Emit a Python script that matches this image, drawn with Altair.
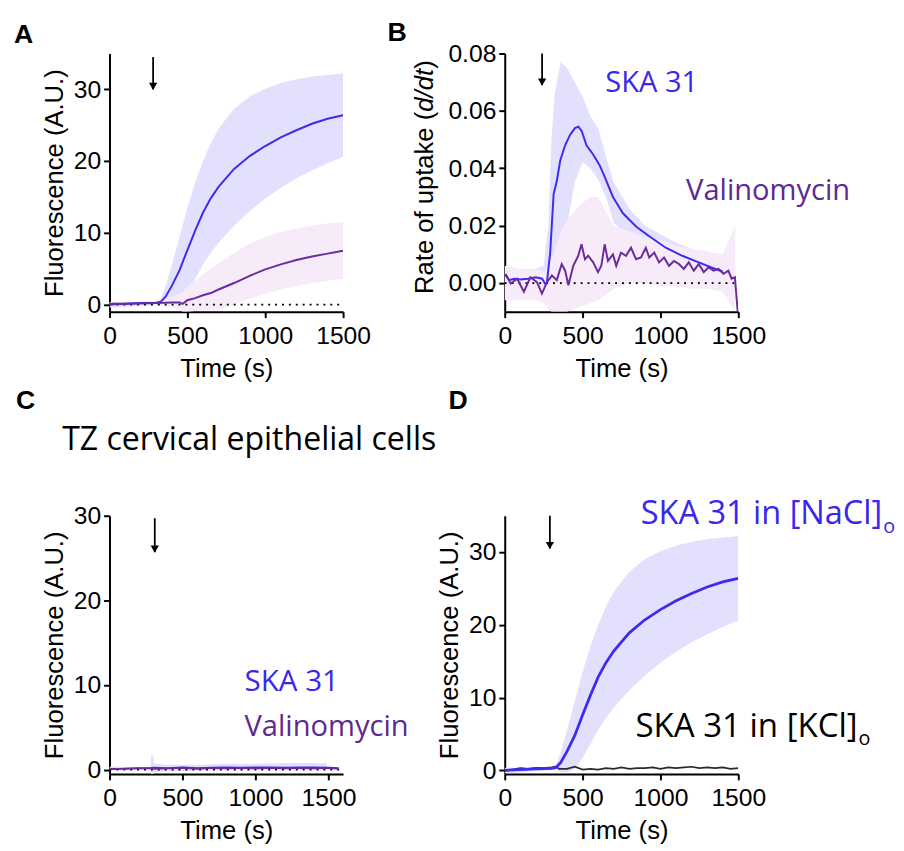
import altair as alt
import pandas as pd

# ---------------- data ----------------
# Panels A and D : SKA 31 fluorescence (mean and SEM envelope)
time_ska = [0, 100, 200, 300, 330, 360, 400, 450, 500, 550, 600, 650, 700, 800, 900, 1000, 1100, 1200, 1300, 1400, 1500]
ska_mean = [0.0, 0.1, 0.2, 0.25, 0.4, 1.1, 2.6, 4.8, 7.6, 10.3, 12.8, 14.8, 16.4, 18.9, 20.7, 22.1, 23.3, 24.3, 25.2, 25.9, 26.4]
ska_hi = [0.35, 0.35, 0.4, 0.5, 0.8, 2.5, 5.5, 9.5, 13.5, 17.0, 20.0, 22.5, 24.5, 27.3, 29.0, 30.1, 30.9, 31.4, 31.8, 32.0, 32.2]
ska_lo = [-0.4, -0.3, -0.1, 0.0, 0.0, -0.3, -0.3, 0.1, 1.7, 3.6, 5.6, 7.2, 8.6, 11.0, 13.0, 14.8, 16.3, 17.6, 18.7, 19.7, 20.6]

# Panel A : Valinomycin fluorescence
time_val = [0, 100, 200, 300, 400, 450, 470, 500, 550, 600, 650, 700, 800, 900, 1000, 1100, 1200, 1300, 1400, 1500]
val_mean = [0.1, 0.1, 0.15, 0.2, 0.3, 0.3, 0.1, 0.6, 0.9, 1.3, 1.6, 2.1, 3.0, 4.0, 4.9, 5.6, 6.2, 6.7, 7.1, 7.5]
val_hi = [0.3, 0.3, 0.4, 0.5, 1.0, 1.5, 1.8, 2.5, 3.3, 4.2, 5.0, 5.8, 7.2, 8.5, 9.4, 10.1, 10.6, 11.0, 11.3, 11.5]
val_lo = [-0.1, -0.1, -0.1, -0.1, -0.4, -0.8, -1.0, -1.0, -0.9, -0.8, -0.8, -0.7, 0.0, 0.8, 1.5, 2.1, 2.6, 3.0, 3.3, 3.6]

# Panel B : rate of uptake
time_rate_ska = [0, 30, 60, 100, 150, 200, 240, 262, 271, 292, 314, 335, 356, 388, 420, 451, 473, 494, 525, 568, 610,
                 642, 695, 759, 843, 928, 1034, 1140, 1246, 1352, 1400]
rate_ska = [0.003, 0.001, 0.0015, 0.0012, 0.0015, 0.002, 0.0015, -0.0005, 0.0003, 0.0106, 0.031, 0.0357, 0.0426, 0.048,
            0.0517, 0.054, 0.0545, 0.053, 0.048, 0.0448, 0.041, 0.037, 0.030, 0.0243, 0.0197, 0.0163, 0.0123, 0.0095,
            0.0072, 0.0049, 0.004]
time_rate_val = [6, 38, 80, 123, 165, 207, 239, 271, 303, 334, 366, 388, 409, 440, 472, 493, 515, 536, 568, 599, 620,
                 642, 663, 695, 716, 747, 779, 811, 843, 875, 906, 928, 960, 991, 1023, 1055, 1087, 1119, 1150, 1182,
                 1214, 1246, 1278, 1309, 1341, 1373, 1405, 1436, 1457, 1478, 1496]
rate_val = [0.0032, -0.0002, 0.0015, -0.003, 0.002, 0.0003, -0.0037, 0.0003, 0.0026, 0.001, 0.0066, 0.0043, -0.0008,
            0.006, 0.0095, 0.0135, 0.0083, 0.0095, 0.0072, 0.0038, 0.006, 0.0135, 0.0077, 0.010, 0.006, 0.0106, 0.0095,
            0.0123, 0.0083, 0.0089, 0.0123, 0.0089, 0.0106, 0.0072, 0.0089, 0.006, 0.0077, 0.0066, 0.0049, 0.0072,
            0.0043, 0.0066, 0.0038, 0.0055, 0.0043, 0.0049, 0.0032, 0.0043, 0.0015, 0.002, -0.0098]
time_rate_band = [0, 100, 200, 250, 280, 300, 320, 360, 400, 450, 500, 550, 600, 650, 700, 800, 900, 1000, 1100, 1200,
                  1300, 1400, 1480]
rate_ska_hi = [0.005, 0.004, 0.005, 0.006, 0.02, 0.05, 0.066, 0.077, 0.075, 0.070, 0.065, 0.058, 0.054, 0.044, 0.035,
               0.026, 0.020, 0.017, 0.014, 0.012, 0.010, 0.008, 0.006]
rate_ska_lo = [-0.002, -0.002, -0.001, -0.004, -0.008, -0.01, -0.008, 0.005, 0.02, 0.035, 0.042, 0.040, 0.036, 0.030,
               0.021, 0.016, 0.013, 0.010, 0.008, 0.006, 0.004, 0.002, 0.002]
rate_val_hi = [0.006, 0.005, 0.005, 0.004, 0.006, 0.008, 0.011, 0.018, 0.022, 0.025, 0.028, 0.030, 0.030, 0.025, 0.020,
               0.018, 0.016, 0.015, 0.013, 0.012, 0.011, 0.010, 0.020]
rate_val_lo = [-0.006, -0.006, -0.006, -0.007, -0.009, -0.01, -0.01, -0.01, -0.01, -0.009, -0.008, -0.007, -0.006,
               -0.004, -0.002, 0.0, 0.0, -0.001, -0.001, -0.002, -0.002, -0.003, -0.01]

# Panel C : TZ cervical epithelial cells
time_c = [0, 100, 200, 280, 300, 400, 500, 600, 700, 800, 900, 1000, 1100, 1200, 1300, 1400, 1500, 1570]
ska_c = [0.05, 0.15, 0.2, 0.2, 0.25, 0.2, 0.3, 0.2, 0.25, 0.3, 0.25, 0.3, 0.3, 0.25, 0.3, 0.3, 0.25, 0.2]
val_c = [0.1, 0.1, 0.15, 0.15, 0.1, 0.15, 0.2, 0.1, 0.2, 0.15, 0.2, 0.15, 0.2, 0.15, 0.2, 0.15, 0.2, 0.1]
time_c_band = [0, 280, 285, 300, 305, 400, 600, 800, 1000, 1200, 1400, 1490]
ska_c_hi = [0.35, 0.35, 1.8, 1.6, 0.7, 0.6, 0.6, 0.7, 0.7, 0.8, 0.8, 0.8]
ska_c_lo = [0.0, 0.0, -0.5, -0.5, -0.3, -0.2, -0.1, 0.0, 0.0, 0.0, 0.0, 0.0]

# Panel D : SKA 31 in KCl
time_kcl = [0, 50, 100, 150, 200, 250, 300, 330, 350, 400, 450, 500, 550, 600, 650, 700, 750, 800, 850, 900, 950,
            1000, 1050, 1100, 1150, 1200, 1250, 1300, 1350, 1400, 1450, 1500]
kcl_mean = [-0.1, 0.1, 0.3, 0.2, 0.35, 0.3, 0.4, 0.5, 0.2, 0.2, 0.5, 0.1, 0.2, 0.1, 0.3, 0.2, 0.4, 0.2, 0.3, 0.3, 0.4,
            0.2, 0.4, 0.3, 0.4, 0.5, 0.3, 0.4, 0.3, 0.4, 0.2, 0.3]

# arrows (time of addition), per panel: x, top, tip
arrow_A = [280, 34.5, 30.0]
arrow_B = [240, 0.080, 0.069]
arrow_C = [310, 29.7, 25.7]
arrow_D = [290, 35.0, 30.5]

# ---------------- styling ----------------
BLUE = "#3b2cf0"
PURPLE = "#6a2b9c"
BAND_BLUE = "#e2e0fc"
BAND_PURPLE = "#f7ebfa"
TXT_BLUE = "#3a26ee"
TXT_PURPLE = "#5c2a90"
W, H = 237, 262
LABEL_FONT = "Open Sans"


def xaxis(values=(0, 500, 1000, 1500)):
    return alt.Axis(values=list(values), title="Time (s)", format="d")


def band(df, lo, hi, color, xs, ys, ya):
    return alt.Chart(df).mark_area(color=color, clip=True, opacity=1).encode(
        x=alt.X("t:Q", scale=xs, axis=xaxis()),
        y=alt.Y(f"{lo}:Q", scale=ys, axis=ya),
        y2=f"{hi}:Q",
    )


def line(df, field, color, xs, ys, ya, width=2.0):
    return alt.Chart(df).mark_line(color=color, strokeWidth=width, clip=True, interpolate="linear").encode(
        x=alt.X("t:Q", scale=xs, axis=xaxis()),
        y=alt.Y(f"{field}:Q", scale=ys, axis=ya),
    )


def zero_line(xs, ys, ya, xend=1500):
    df = pd.DataFrame({"x0": [0], "x1": [xend], "y0": [0]})
    return alt.Chart(df).mark_rule(color="black", strokeDash=[2, 5], strokeWidth=1.8).encode(
        x=alt.X("x0:Q", scale=xs, axis=xaxis()), x2="x1:Q",
        y=alt.Y("y0:Q", scale=ys, axis=ya),
    )


def arrow(a, xs, ys, ya):
    df = pd.DataFrame({"x": [a[0]], "top": [a[1]], "tip": [a[2]]})
    shaft = alt.Chart(df).mark_rule(color="black", strokeWidth=1.8).encode(
        x=alt.X("x:Q", scale=xs, axis=xaxis()),
        y=alt.Y("top:Q", scale=ys, axis=ya), y2="tip:Q",
    )
    head = alt.Chart(df).mark_point(shape="triangle-down", filled=True, color="black", size=70, opacity=1,
                                    yOffset=-3).encode(
        x=alt.X("x:Q", scale=xs, axis=xaxis()),
        y=alt.Y("tip:Q", scale=ys, axis=ya),
    )
    return shaft + head


def label(text, x, y, color="black", size=29, weight="normal", font=LABEL_FONT, align="left",
          baseline="alphabetic", angle=0, style="normal"):
    df = pd.DataFrame({"s": [text]})
    return alt.Chart(df).mark_text(color=color, fontSize=size, fontWeight=weight, font=font, align=align,
                                   baseline=baseline, angle=angle, fontStyle=style).encode(
        text="s:N", x=alt.value(x), y=alt.value(y))


def letter(text, x, y):
    return label(text, x, y, size=27, weight="bold", font="Liberation Sans")


def anchor(x, y):
    # invisible point fixing the top-left corner of the figure
    df = pd.DataFrame({"a": [0]})
    return alt.Chart(df).mark_point(size=1, opacity=0, filled=True, strokeWidth=0).encode(
        x=alt.value(x), y=alt.value(y))


# ---------------- Panel A ----------------
dfA_ska = pd.DataFrame({"t": time_ska, "m": ska_mean, "lo": ska_lo, "hi": ska_hi})
dfA_val = pd.DataFrame({"t": time_val, "m": val_mean, "lo": val_lo, "hi": val_hi})
xsA = alt.Scale(domain=[0, 1500], nice=False, zero=False)
ysA = alt.Scale(domain=[-1, 35], nice=False, zero=False)
yaA = alt.Axis(values=[0, 10, 20, 30], title="Fluorescence (A.U.)")
panelA = alt.layer(
    band(dfA_ska, "lo", "hi", BAND_BLUE, xsA, ysA, yaA),
    band(dfA_val, "lo", "hi", BAND_PURPLE, xsA, ysA, yaA),
    zero_line(xsA, ysA, yaA),
    line(dfA_ska, "m", BLUE, xsA, ysA, yaA),
    line(dfA_val, "m", PURPLE, xsA, ysA, yaA),
    arrow(arrow_A, xsA, ysA, yaA),
    letter("A", -97, -11),
    anchor(-97.5, -36),
).properties(width=W, height=H)

# ---------------- Panel B ----------------
dfB_ska = pd.DataFrame({"t": time_rate_ska, "m": rate_ska})
dfB_val = pd.DataFrame({"t": time_rate_val, "m": rate_val})
dfB_band = pd.DataFrame({"t": time_rate_band, "slo": rate_ska_lo, "shi": rate_ska_hi,
                         "vlo": rate_val_lo, "vhi": rate_val_hi})
xsB = alt.Scale(domain=[0, 1500], nice=False, zero=False)
ysB = alt.Scale(domain=[-0.01, 0.08], nice=False, zero=False)
yaB = alt.Axis(values=[0, 0.02, 0.04, 0.06, 0.08], format=".2f", title=None)
panelB = alt.layer(
    band(dfB_band, "slo", "shi", BAND_BLUE, xsB, ysB, yaB),
    band(dfB_band, "vlo", "vhi", BAND_PURPLE, xsB, ysB, yaB),
    zero_line(xsB, ysB, yaB),
    line(dfB_ska, "m", BLUE, xsB, ysB, yaB),
    line(dfB_val, "m", PURPLE, xsB, ysB, yaB),
    arrow(arrow_B, xsB, ysB, yaB),
    label("SKA 31", 102, 39, color=TXT_BLUE, size=29.5),
    label("Valinomycin", 184, 149, color=TXT_PURPLE, size=29.5),
    label("Rate of uptake (", -73, 244, size=26, font="Liberation Sans", angle=270),
    label("d/dt", -73, 59, size=26, font="Liberation Sans", angle=270, style="italic"),
    label(")", -73, 15.6, size=26, font="Liberation Sans", angle=270),
    letter("B", -119, -13),
).properties(width=W, height=H)

# ---------------- Panel C ----------------
dfC = pd.DataFrame({"t": time_c, "s": ska_c, "v": val_c})
dfC_band = pd.DataFrame({"t": time_c_band, "lo": ska_c_lo, "hi": ska_c_hi})
xsC = alt.Scale(domain=[0, 1600], nice=False, zero=False)
ysC = alt.Scale(domain=[-0.5, 30], nice=False, zero=False)
yaC = alt.Axis(values=[0, 10, 20, 30], title="Fluorescence (A.U.)")
panelC = alt.layer(
    band(dfC_band, "lo", "hi", BAND_BLUE, xsC, ysC, yaC),
    zero_line(xsC, ysC, yaC, xend=1600),
    line(dfC, "s", BLUE, xsC, ysC, yaC, width=1.6),
    line(dfC, "v", PURPLE, xsC, ysC, yaC, width=1.6),
    arrow(arrow_C, xsC, ysC, yaC),
    label("SKA 31", 137, 178, color=TXT_BLUE, size=30),
    label("Valinomycin", 137, 223, color=TXT_PURPLE, size=29.5),
    label("TZ cervical epithelial cells", -48, -67, size=32.5),
    letter("C", -95, -108),
).properties(width=W, height=H)

# ---------------- Panel D ----------------
dfD_ska = dfA_ska
dfD_kcl = pd.DataFrame({"t": time_kcl, "m": kcl_mean})
xsD = alt.Scale(domain=[0, 1500], nice=False, zero=False)
ysD = alt.Scale(domain=[-0.5, 35], nice=False, zero=False)
yaD = alt.Axis(values=[0, 10, 20, 30], title="Fluorescence (A.U.)")
panelD = alt.layer(
    band(dfD_ska, "lo", "hi", BAND_BLUE, xsD, ysD, yaD),
    line(dfD_kcl, "m", "#2b2b2b", xsD, ysD, yaD, width=1.6),
    line(dfD_ska, "m", BLUE, xsD, ysD, yaD, width=2.8),
    arrow(arrow_D, xsD, ysD, yaD),
    label("SKA 31 in [NaCl]", 383, 8, color=TXT_BLUE, size=33, align="right"),
    label("o", 384, 18, color=TXT_BLUE, size=20),
    label("SKA 31 in [KCl]", 358, 225, size=33.5, align="right"),
    label("o", 359, 233, size=20),
    letter("D", -57, -108),
).properties(width=W, height=H)

chart = alt.concat(
    panelA, panelB, panelC, panelD,
    columns=2,
    spacing=alt.RowColnumber(row=207, column=164),
    bounds="flush",
).properties(
    padding={"left": 5, "top": 3, "right": 0, "bottom": 0}
).configure_view(stroke=None).configure_axis(
    grid=False,
    domainColor="black", domainWidth=2,
    tickColor="black", tickWidth=2, tickSize=6,
    labelFont="Liberation Sans", labelFontSize=25, labelColor="black", labelPadding=3,
    titleFont="Liberation Sans", titleFontSize=26, titleFontWeight="normal", titleColor="black",
    titlePadding=6, labelOverlap=False, labelBound=False, labelFlush=False,
).configure_axisX(labelPadding=6, titlePadding=8)

chart.save("out.html", embed_options={"renderer": "svg", "actions": False})
